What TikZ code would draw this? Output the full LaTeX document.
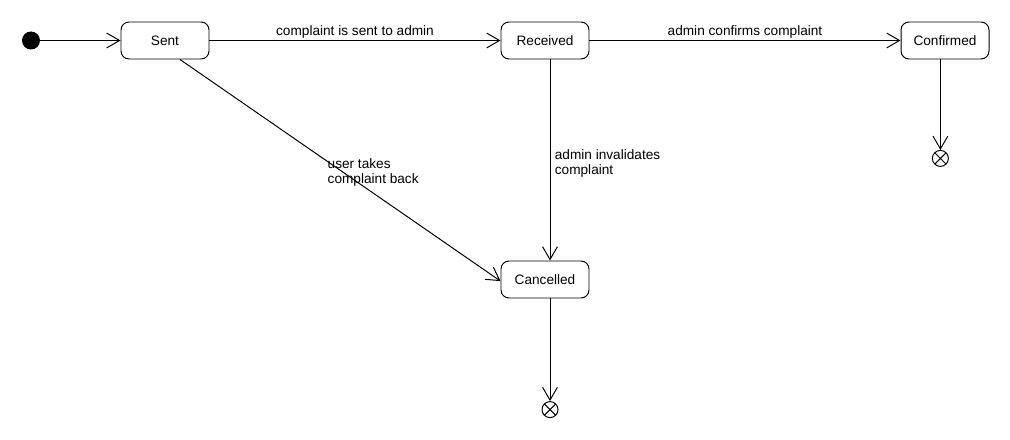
\documentclass[tikz,border=0pt]{standalone}
\usepackage{fontspec}
\setmainfont{Liberation Sans}
\usepackage{tikz}
\usetikzlibrary{arrows.meta, positioning, calc}

\tikzset{
  statebox/.style={draw, rounded corners=0.2cm, minimum width=2.2cm, minimum height=0.925cm, line width=0.7pt, font=\fontsize{9.7}{10.7}\selectfont},
  initstate/.style={circle, fill=black, minimum size=0.45cm, inner sep=0pt},
  finalstate/.style={circle, draw, minimum size=0.4cm, inner sep=0pt, line width=0.7pt,
    path picture={\draw[line width=0.7pt] (path picture bounding box.north west) -- (path picture bounding box.south east)
      (path picture bounding box.north east) -- (path picture bounding box.south west);}},
  trans/.style={line width=0.7pt, -{Straight Barb[length=0.32cm, width=0.37cm, line width=0.7pt]}},
  lbl/.style={font=\fontsize{9.7}{10.7}\selectfont, align=left, inner sep=1pt}
}

\begin{document}
\begin{tikzpicture}
  \useasboundingbox[fill=white] (0,0) rectangle (25.25,-11);

  % States
  \node[initstate] (init) at (0.775,-1.0125) {};
  \node[statebox] (sent) at (4.125,-1.0125) {Sent};
  \node[statebox] (received) at (13.625,-1.0125) {Received};
  \node[statebox] (confirmed) at (23.625,-1.0125) {Confirmed};
  \node[statebox] (cancelled) at (13.625,-6.9875) {Cancelled};

  % Final states
  \node[finalstate] (endconf) at (23.51,-3.96) {};
  \node[finalstate] (endcanc) at (13.75,-10.24) {};

  % Transitions
  \draw[trans] (init) -- (sent);
  \draw[trans] (sent) -- node[lbl, above] {complaint is sent to admin} (received);
  \draw[trans] (received) -- node[lbl, above] {admin confirms complaint} (confirmed);
  \draw[trans] ($(sent.south)+(0.375,0)$) -- ($(cancelled.west)+(0,-0.04)$);
  \draw[trans] (received.south -| endcanc) -- (cancelled.north -| endcanc);
  \draw[trans] (confirmed.south -| endconf) -- (endconf);
  \draw[trans] (cancelled.south -| endcanc) -- (endcanc);

  % Transition labels
  \node[lbl, anchor=west] (takeback) at (8.15,-4.3) {user takes\\complaint back};
  \node[lbl, anchor=west] (invalid) at (13.83,-4.09) {admin invalidates\\complaint};
\end{tikzpicture}
\end{document}
